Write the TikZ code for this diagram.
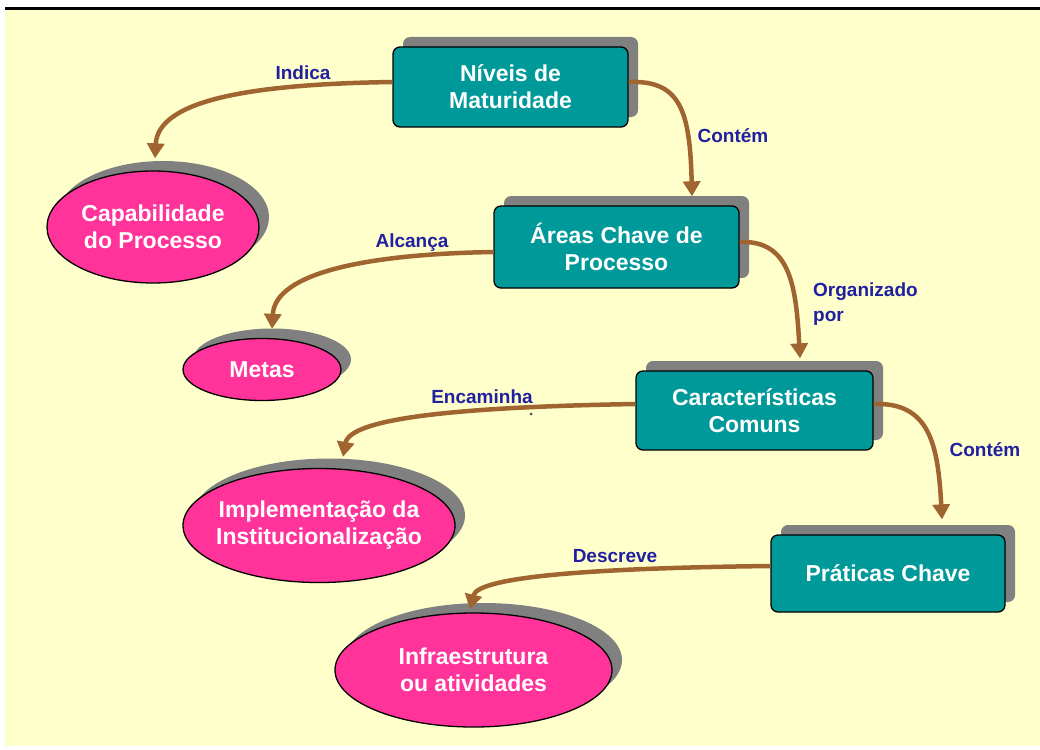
\documentclass[tikz,border=0pt]{standalone}
\usepackage{fontspec}
\setmainfont{Liberation Sans}
\usetikzlibrary{arrows.meta,shadows,calc,shapes.geometric}
\definecolor{bgyellow}{RGB}{255,255,204}
\definecolor{teal}{RGB}{0,153,153}
\definecolor{pinkfill}{RGB}{255,51,153}
\definecolor{shadowgray}{RGB}{128,128,128}
\definecolor{arrowbrown}{RGB}{160,100,48}
\definecolor{labelblue}{RGB}{32,32,160}
\tikzset{
  shad/.style={general shadow={shadow xshift=10pt, shadow yshift=10pt, fill=shadowgray}},
  boxnode/.style={draw=black, line width=1.3pt, fill=teal, rounded corners=7pt, shad,
    text=white, font=\fontsize{23}{27}\selectfont\bfseries, align=center, inner sep=0pt},
  ellnode/.style={ellipse, draw=black, line width=1.3pt, fill=pinkfill, shad,
    text=white, font=\fontsize{23}{27}\selectfont\bfseries, align=center,
    inner xsep=-40pt, inner ysep=-10pt},
  conn/.style={draw=arrowbrown, line width=4.5pt, -{Triangle[width=17pt,length=15pt]}},
  lbl/.style={text=labelblue, font=\fontsize{19}{25}\selectfont\bfseries, inner sep=0pt},
}
\begin{document}
\begin{tikzpicture}[x=1pt,y=-1pt]
\useasboundingbox (0,0) rectangle (1040,749);
\fill[white] (0,0) rectangle (1040,749);
\fill[bgyellow] (5,10) rectangle (1040,746);
\draw[black, line width=2.2pt] (5,8.5) -- (1040,8.5);

% boxes
\node[boxnode, minimum width=235pt, minimum height=80pt] (niv) at (510.5,87) {Níveis de\\Maturidade};
\node[boxnode, minimum width=245pt, minimum height=82pt] (areas) at (616.5,247) {Áreas Chave de\\Processo};
\node[boxnode, minimum width=237pt, minimum height=79pt] (car) at (754.5,410.5) {Características\\Comuns};
\node[boxnode, minimum width=234pt, minimum height=77pt] (pra) at (888,573.5) {Práticas Chave};

% ellipses
\node[ellnode, minimum width=212pt, minimum height=112pt] (cap) at (153,227) {Capabilidade\\do Processo};
\node[ellnode, minimum width=158pt, minimum height=62pt] (metas) at (262,369.5) {Metas};
\node[ellnode, minimum width=272pt, minimum height=114pt] (impl) at (319,525.5) {Implementação da\\Institucionalização};
\node[ellnode, minimum width=277pt, minimum height=114pt] (infra) at (473.5,670) {Infraestrutura\\ou atividades};

% end points of connectors (top of the shadows)
\coordinate (capT) at ($(cap.north)+(2,-12)$);
\coordinate (areasT) at ($(areas.north)+(75.5,-9)$);
\coordinate (metasT) at ($(metas.north)+(10,-9)$);
\coordinate (carT) at ($(car.north)+(45.5,-12)$);
\coordinate (implT) at ($(impl.north)+(24,-11)$);
\coordinate (praT) at ($(pra.north)+(54,-15)$);
\coordinate (infraT) at ($(infra.north)+(-3.5,-3)$);

% connectors
\draw[conn] (niv.west |- 0,82) .. controls (260,84) and (158,98) .. (capT);
\draw[conn] (niv.east |- 0,82) .. controls (680,80) and (690,110) .. (areasT);
\draw[conn] (areas.west |- 0,252) .. controls (370,254) and (275,272) .. (metasT);
\draw[conn] (areas.east |- 0,242) .. controls (790,240) and (796,285) .. (carT);
\draw[conn] (car.west |- 0,404) .. controls (460,407) and (350,418) .. (implT);
\draw[conn] (car.east |- 0,404) .. controls (930,402) and (938,445) .. (praT);
\draw[conn] (pra.west |- 0,566) .. controls (600,568) and (478,576) .. (infraT);

% labels
\node[lbl] (l1) at (303,73) {Indica};
\node[lbl] (l2) at (733,136) {Contém};
\node[lbl] (l3) at (412,243) {Alcança};
\node[lbl, align=left, anchor=west] (l4) at (813,304) {Organizado\\por};
\node[lbl] (l5) at (482,397) {Encaminha};
\node[lbl] (l6) at (985,450) {Contém};
\node[lbl] (l7) at (615,556) {Descreve};

\fill[black!70] (531,414) circle (1.5pt);
\end{tikzpicture}
\end{document}
